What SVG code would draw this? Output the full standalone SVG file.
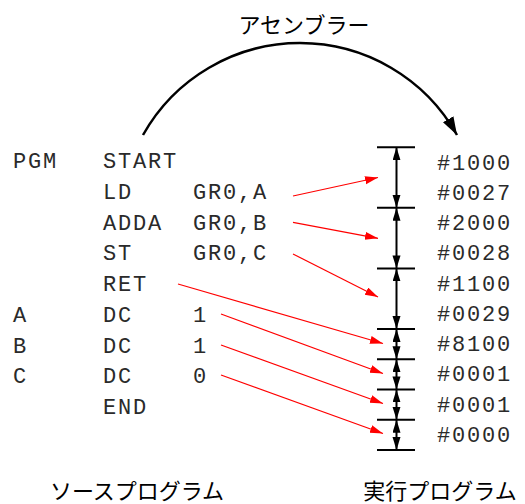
<svg xmlns="http://www.w3.org/2000/svg" width="525" height="504" viewBox="0 0 525 504">
  <style>
    .code { font-family: "Liberation Mono", "Courier New", monospace; font-size: 22px; letter-spacing: 1.8px; fill: #2a2a2a; }
    .jp { font-family: "Noto Sans CJK JP", "Noto Sans", sans-serif; font-size: 22px; fill: #000; }
    .red { stroke: #ff0000; stroke-width: 1.2; fill: none; marker-end: url(#redHead); }
    .dim { stroke: #000; stroke-width: 2; fill: none; marker-start: url(#blkHead); marker-end: url(#blkHead); }
    .tick { stroke: #000; stroke-width: 2; }
  </style>
  <defs>
    <marker id="redHead" markerUnits="userSpaceOnUse" markerWidth="14" markerHeight="9" refX="13" refY="4" orient="auto" viewBox="0 0 14 9">
      <path d="M0,0 L13,4 L0,8 z" fill="#ff0000"/>
    </marker>
    <marker id="blkHead" markerUnits="userSpaceOnUse" markerWidth="14" markerHeight="9" refX="13" refY="4" orient="auto-start-reverse" viewBox="0 0 14 9">
      <path d="M0,0 L13,4 L0,8 z" fill="#000"/>
    </marker>
    <marker id="arcHead" markerUnits="userSpaceOnUse" markerWidth="20" markerHeight="13" refX="18" refY="6" orient="auto" viewBox="0 0 20 13">
      <path d="M0,0 L18,6 L0,12 z" fill="#000"/>
    </marker>
  </defs>

  <!-- assembler arc -->
  <g id="assembler">
    <path d="M143,135 A180,180 0 0 1 457,135" stroke="#000" stroke-width="2.5" fill="none" marker-end="url(#arcHead)"/>
    <text class="jp" x="304" y="33" text-anchor="middle">アセンブラー</text>
  </g>

  <!-- source program listing -->
  <g id="source">
    <text class="code" x="13" y="168.3">PGM</text>
    <text class="code" x="103" y="168.3">START</text>
    <text class="code" x="103" y="199">LD</text>
    <text class="code" x="193" y="199">GR0,A</text>
    <text class="code" x="103" y="229.7">ADDA</text>
    <text class="code" x="193" y="229.7">GR0,B</text>
    <text class="code" x="103" y="260.4">ST</text>
    <text class="code" x="193" y="260.4">GR0,C</text>
    <text class="code" x="103" y="291.1">RET</text>
    <text class="code" x="13" y="321.8">A</text>
    <text class="code" x="103" y="321.8">DC</text>
    <text class="code" x="193" y="321.8">1</text>
    <text class="code" x="13" y="352.5">B</text>
    <text class="code" x="103" y="352.5">DC</text>
    <text class="code" x="193" y="352.5">1</text>
    <text class="code" x="13" y="383.2">C</text>
    <text class="code" x="103" y="383.2">DC</text>
    <text class="code" x="193" y="383.2">0</text>
    <text class="code" x="103" y="413.9">END</text>
    <text class="jp" x="137" y="499" text-anchor="middle">ソースプログラム</text>
  </g>

  <!-- executable memory image -->
  <g id="executable">
    <text class="code" x="437" y="169.5">#1000</text>
    <text class="code" x="437" y="199.8">#0027</text>
    <text class="code" x="437" y="230">#2000</text>
    <text class="code" x="437" y="260.3">#0028</text>
    <text class="code" x="437" y="290.6">#1100</text>
    <text class="code" x="437" y="320.9">#0029</text>
    <text class="code" x="437" y="351.1">#8100</text>
    <text class="code" x="437" y="381.4">#0001</text>
    <text class="code" x="437" y="411.7">#0001</text>
    <text class="code" x="437" y="442">#0000</text>
    <text class="jp" x="440" y="499" text-anchor="middle">実行プログラム</text>
  </g>

  <!-- word boundaries -->
  <g id="boundaries">
    <line class="tick" x1="377" y1="147.3" x2="415" y2="147.3"/>
    <line class="tick" x1="377" y1="207.8" x2="415" y2="207.8"/>
    <line class="tick" x1="377" y1="268.4" x2="415" y2="268.4"/>
    <line class="tick" x1="377" y1="328.9" x2="415" y2="328.9"/>
    <line class="tick" x1="377" y1="359.2" x2="415" y2="359.2"/>
    <line class="tick" x1="377" y1="389.4" x2="415" y2="389.4"/>
    <line class="tick" x1="377" y1="419.7" x2="415" y2="419.7"/>
    <line class="tick" x1="377" y1="450" x2="415" y2="450"/>
    <path class="dim" d="M396.5,147.3 L396.5,207.8"/>
    <path class="dim" d="M396.5,207.8 L396.5,268.4"/>
    <path class="dim" d="M396.5,268.4 L396.5,328.9"/>
    <path class="dim" d="M396.5,328.9 L396.5,359.2"/>
    <path class="dim" d="M396.5,359.2 L396.5,389.4"/>
    <path class="dim" d="M396.5,389.4 L396.5,419.7"/>
    <path class="dim" d="M396.5,419.7 L396.5,450"/>
  </g>

  <!-- source line to memory word connectors -->
  <g id="connectors">
    <path class="red" d="M293,196 L378,177.5"/>
    <path class="red" d="M293,222.3 L378,238.3"/>
    <path class="red" d="M293,254 L378,297"/>
    <path class="red" d="M178,284 L383,343.5"/>
    <path class="red" d="M221,314 L383,373.5"/>
    <path class="red" d="M221,345 L383,403.5"/>
    <path class="red" d="M221,375 L383,433.5"/>
  </g>
</svg>
